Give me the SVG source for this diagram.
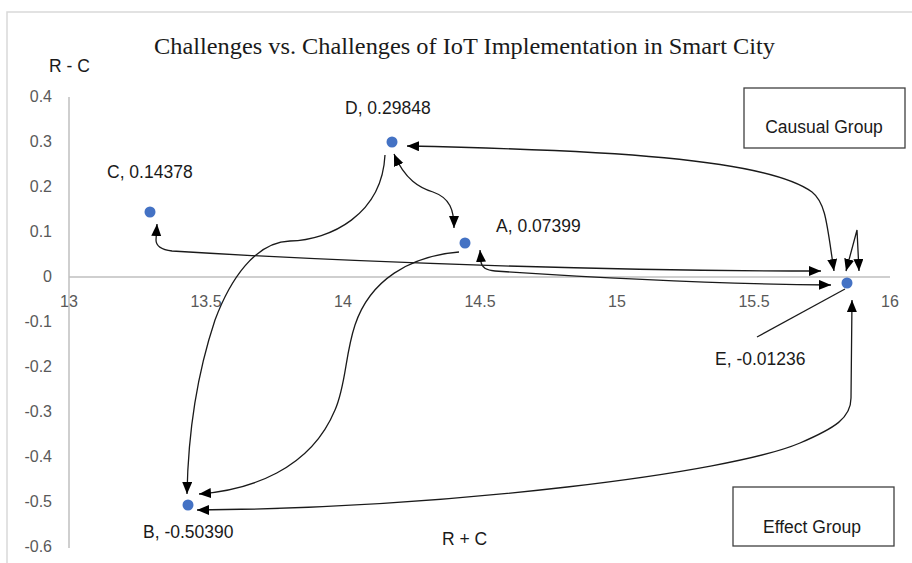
<svg xmlns="http://www.w3.org/2000/svg" width="912" height="563" viewBox="0 0 912 563">
<style>
.frame{stroke:#D9D9D9;stroke-width:1.5;fill:none}
.axis{stroke:#BFBFBF;stroke-width:1.5;fill:none}
.tick{font-family:"Liberation Sans",Arial,sans-serif;font-size:16px;fill:#595959}
.lbl{font-family:"Liberation Sans",Arial,sans-serif;font-size:17.5px;fill:#1a1a1a}
.title{font-family:"Liberation Serif","Times New Roman",serif;font-size:24px;fill:#1a1a1a}
.dot{fill:#4472C4}
.box{fill:#fff;stroke:#404040;stroke-width:1.3}
.con{fill:none;stroke:#1a1a1a;stroke-width:1.3}
.a2{marker-start:url(#ah);marker-end:url(#ah)}
.a1{marker-end:url(#ah)}
</style>
<defs>
<marker id="ah" markerUnits="userSpaceOnUse" markerWidth="13" markerHeight="11" refX="12" refY="5" orient="auto-start-reverse" viewBox="0 0 13 11">
<path d="M0,0 L12,5 L0,10 z" fill="#000"/>
</marker>
</defs>
<rect width="912" height="563" fill="#fff"/>
<path class="frame" d="M7 563 V12 H912"/>
<text class="title" x="154" y="54" textLength="621" lengthAdjust="spacingAndGlyphs">Challenges vs. Challenges of IoT Implementation in Smart City</text>
<g id="axes">
<path class="axis" d="M69 97 V548"/>
<path class="axis" d="M69 277 H890"/>
<g class="tick" text-anchor="end">
<text x="52" y="102">0.4</text>
<text x="52" y="147">0.3</text>
<text x="52" y="192">0.2</text>
<text x="52" y="237">0.1</text>
<text x="52" y="282">0</text>
<text x="52" y="327">-0.1</text>
<text x="52" y="372">-0.2</text>
<text x="52" y="417">-0.3</text>
<text x="52" y="462">-0.4</text>
<text x="52" y="507">-0.5</text>
<text x="52" y="552">-0.6</text>
</g>
<g class="tick" text-anchor="middle">
<text x="69" y="307">13</text>
<text x="206" y="307">13.5</text>
<text x="343" y="307">14</text>
<text x="480" y="307">14.5</text>
<text x="617" y="307">15</text>
<text x="754" y="307">15.5</text>
<text x="890" y="307">16</text>
</g>
<text class="lbl" x="49" y="72">R - C</text>
<text class="lbl" x="442" y="545">R + C</text>
</g>
<g id="connectors">
<path class="con a2" d="M407 146 C600 150 765 158 812 192 C826 203 827 225 834 271"/>
<path class="con a2" d="M846 271 L857 230 L859 271"/>
<path class="con a2" d="M157 224 L156 240 Q156 249 172 251 C350 262 600 271 821 271"/>
<path class="con a2" d="M480 250 L481 262 Q482 270 495 271 C600 278 720 284 831 285"/>
<path class="con a2" d="M394 154 C405 180 420 188 433 192 C450 198 454 210 454 228"/>
<path class="con a1" d="M385 155 C382 215 330 240 290 241 C255 242 230 280 215 320 C195 380 188 440 187 494"/>
<path class="con a1" d="M459 252 C410 256 370 280 355 325 C345 355 346 385 335 410 C310 470 250 490 199 494"/>
<path class="con a2" d="M852 300 L851 398 C851 418 835 428 800 443 C730 473 450 508 197 510"/>
<path class="con" d="M757 337 L845 289"/>
</g>
<g id="node-C"><circle class="dot" cx="150" cy="212" r="5.5"/><text class="lbl" x="107" y="178">C, 0.14378</text></g>
<g id="node-D"><circle class="dot" cx="392" cy="142" r="5.5"/><text class="lbl" x="345" y="114">D, 0.29848</text></g>
<g id="node-A"><circle class="dot" cx="465" cy="243" r="5.5"/><text class="lbl" x="496" y="232">A, 0.07399</text></g>
<g id="node-E"><circle class="dot" cx="847" cy="283" r="5.5"/><text class="lbl" x="715" y="365">E, -0.01236</text></g>
<g id="node-B"><circle class="dot" cx="188" cy="505" r="5.5"/><text class="lbl" x="143" y="538">B, -0.50390</text></g>
<g id="causal-group"><rect class="box" x="744" y="88" width="161" height="60"/><text class="lbl" x="824" y="133" text-anchor="middle">Causual Group</text></g>
<g id="effect-group"><rect class="box" x="733" y="487" width="161" height="59"/><text class="lbl" x="812" y="533" text-anchor="middle">Effect Group</text></g>
</svg>
